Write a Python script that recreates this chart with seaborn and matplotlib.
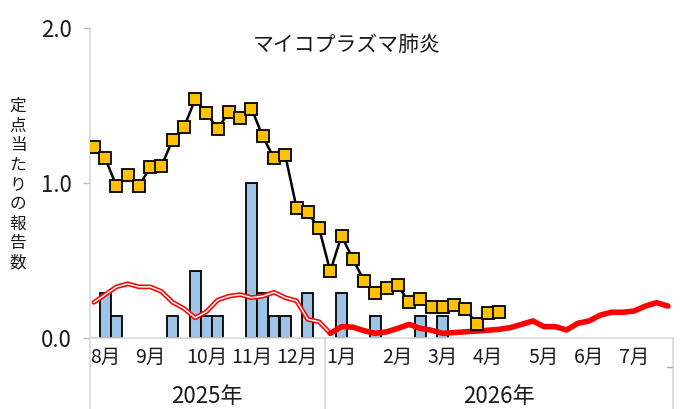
import matplotlib
matplotlib.use('Agg')
import matplotlib.pyplot as plt
import seaborn as sns
import pandas as pd

# Style first, then the Japanese font list (set_style resets font.family)
sns.set_style('white')
plt.rcParams['font.family'] = ['Noto Sans CJK JP', 'DejaVu Sans']

# Week index 0 = first week of Aug 2025, 51 = last week of Jul 2026
weeks = list(range(52))

# Bars: this season, local reports per sentinel (0 = no bar)
bar_values = [0, 0.29, 0.14, 0, 0, 0, 0, 0.14, 0, 0.43,
              0.14, 0.14, 0, 0, 1.0, 0.29, 0.14, 0.14, 0, 0.29,
              0, 0, 0.29, 0, 0, 0.14, 0, 0, 0, 0.14,
              0, 0.14] + [0] * 20

# Yellow squares: this season
current = [1.23, 1.16, 0.98, 1.05, 0.98, 1.10, 1.11, 1.28, 1.36, 1.54,
           1.45, 1.35, 1.46, 1.42, 1.48, 1.30, 1.16, 1.18, 0.84, 0.81,
           0.71, 0.43, 0.66, 0.51, 0.37, 0.29, 0.32, 0.34, 0.23, 0.25,
           0.20, 0.20, 0.21, 0.19, 0.09, 0.16, 0.17]

# Red outlined line: previous season, Aug - Dec
prev_first = [0.23, 0.28, 0.33, 0.35, 0.33, 0.33, 0.30, 0.23, 0.19, 0.13,
              0.17, 0.245, 0.27, 0.28, 0.26, 0.27, 0.295, 0.26, 0.24, 0.12,
              0.105, 0.03]

# Red thick line: previous season, Jan - Jul (starts at week 21)
prev_second = [0.03, 0.073, 0.07, 0.047, 0.03, 0.04, 0.062, 0.088, 0.062, 0.05,
               0.03, 0.035, 0.04, 0.045, 0.05, 0.056, 0.067, 0.088, 0.11, 0.073,
               0.073, 0.052, 0.095, 0.11, 0.148, 0.166, 0.166, 0.174, 0.206, 0.228,
               0.206]

month_pos = [1, 5, 10, 14, 18, 22, 27, 31, 35, 40, 44, 48]
month_labels = ['8月', '9月', '10月', '11月', '12月', '1月',
                '2月', '3月', '4月', '5月', '6月', '7月']
year_labels = ['2025年', '2026年']

fig = plt.figure(figsize=(6.81, 4.09), dpi=100)
ax = fig.add_axes([0.132, 0.1736, 0.856, 0.758])

df_bar = pd.DataFrame({'week': weeks, 'value': bar_values})
df_bar = df_bar[df_bar['value'] > 0]
sns.barplot(data=df_bar, x='week', y='value', native_scale=True, width=0.95,
            color='#9dc3e6', saturation=1, edgecolor='black', linewidth=1.3,
            errorbar=None, ax=ax, zorder=2)

# outlined red line = thick red with white core
sns.lineplot(x=weeks[:22], y=prev_first, color='red', lw=3.4, ax=ax, zorder=3)
sns.lineplot(x=weeks[:22], y=prev_first, color='white', lw=1.1, ax=ax, zorder=3)

sns.lineplot(x=weeks[21:], y=prev_second, color='red', lw=4, ax=ax, zorder=3)

sns.lineplot(x=weeks[:len(current)], y=current, color='black', lw=1.8,
             marker='s', markersize=8.3, markerfacecolor='#ffc000',
             markeredgecolor='black', markeredgewidth=1.3, ax=ax, zorder=4)

x_left, x_right = -0.36, 51.44
ax.set_xlim(x_left, x_right)
ax.set_ylim(0, 2.0)
ax.set_xlabel('')
ax.set_ylabel('')

ax.set_yticks([0, 1, 2])
ax.set_yticklabels(['0.0', '1.0', '2.0'], fontsize=16, color='#1a1a1a')
ax.tick_params(axis='y', direction='out', length=5, width=1, color='#bfbfbf', pad=8, left=True)
ax.set_xticks([])

for s in ['top', 'right']:
    ax.spines[s].set_visible(False)
for s in ['left', 'bottom']:
    ax.spines[s].set_color('#d9d9d9')
    ax.spines[s].set_linewidth(1.2)

# category separators below the axis
for xs in [x_left, 20.5, x_right]:
    ax.plot([xs, xs], [0, -0.46], color='#d9d9d9', lw=1.2, clip_on=False)
ax.plot([50.9, 51.4], [-0.19, -0.19], color='#a6a6a6', lw=1, clip_on=False)

for p, lab in zip(month_pos, month_labels):
    ax.text(p, -0.123, lab, ha='center', va='center', fontsize=14, color='#1a1a1a')
ax.text((x_left + 20.5) / 2, -0.38, year_labels[0], ha='center', va='center',
        fontsize=16, color='#1a1a1a')
ax.text((20.5 + x_right) / 2, -0.38, year_labels[1], ha='center', va='center',
        fontsize=16, color='#1a1a1a')

fig.text(347 / 681, 1 - 45 / 409, 'マイコプラズマ肺炎', ha='center', va='center',
         fontsize=15, color='#1a1a1a')
fig.text(18 / 681, 1 - 185 / 409, '\n'.join('定点当たりの報告数'), ha='center',
         va='center', fontsize=12, linespacing=1.2, color='#1a1a1a')

fig.savefig('out.png', dpi=100)
